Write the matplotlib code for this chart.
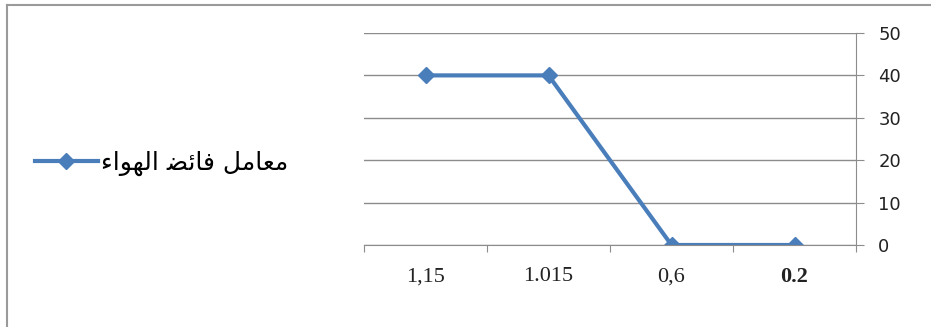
import numpy as np
import matplotlib.pyplot as plt
from matplotlib.lines import Line2D

# data
categories = ["1,15", "1.015", "0,6", "0.2"]
values = [40, 40, 0, 0]
y_ticks = [0, 10, 20, 30, 40, 50]

# "معامل فائض الهواء" in Arabic presentation forms, visual order (no shaping engine in mpl)
word1 = "\uFEE3\uFECC\uFE8E\uFEE3\uFEDE"
word2 = "\uFED3\uFE8E\uFE8B\uFEC0"
word3 = "\uFE8D\uFEDF\uFEEC\uFEEE\uFE8D\uFE80"
series_name = (word1 + " " + word2 + " " + word3)[::-1]

blue = "#4A7EBB"
grid_grey = "#8C8C8C"

fig = plt.figure(figsize=(9.31, 3.27), dpi=100)
W, H = 931, 327

# plot area in pixels: x 364..856, y 33..245
ax = fig.add_axes([364 / W, 1 - 245 / H, (856 - 364) / W, (245 - 33) / H])

x = np.arange(len(categories))
ax.plot(x, values, color=blue, lw=3.0, marker="D", markersize=8.5,
        markerfacecolor=blue, markeredgecolor=blue, solid_joinstyle="miter")

ax.set_xlim(-0.5, len(categories) - 0.5)
ax.set_ylim(0, 50)
ax.set_yticks(y_ticks)
ax.yaxis.tick_right()
ax.grid(axis="y", color=grid_grey, lw=1.0)
ax.set_axisbelow(True)

for s in ["top", "left"]:
    ax.spines[s].set_visible(False)
ax.spines["right"].set_color(grid_grey)
ax.spines["bottom"].set_color(grid_grey)

ax.tick_params(axis="y", length=6, color=grid_grey, labelsize=13,
               labelcolor="#222222", pad=10)
ax.set_yticklabels([str(v) for v in y_ticks], family="DejaVu Sans")

# x ticks at category boundaries, labels centred
ax.set_xticks(np.arange(-0.5, len(categories), 1.0))
ax.set_xticklabels([])
ax.tick_params(axis="x", length=5, color=grid_grey, direction="out")
for i, lab in enumerate(categories):
    ax.text(i, -0.15, lab, transform=ax.get_xaxis_transform(),
            ha="center", va="center", family="Liberation Serif", fontsize=16,
            fontweight="bold" if lab == "0.2" else "normal", color="#222222")

# legend on the left
handle = Line2D([], [], color=blue, lw=3.0, marker="D", markersize=8.5)
fig.legend([handle], [series_name], loc="center left",
           bbox_to_anchor=(35 / W, 1 - 163 / H), frameon=False,
           prop={"family": "DejaVu Sans", "size": 18}, handlelength=2.5,
           handletextpad=0.15, borderpad=0, borderaxespad=0)

# outer frame (top + left only)
fig.add_artist(Line2D([7 / W, 1], [1 - 5 / H, 1 - 5 / H], color="#9A9A9A", lw=1.5))
fig.add_artist(Line2D([7 / W, 7 / W], [0, 1 - 5 / H], color="#9A9A9A", lw=1.5))

fig.savefig("out.png", dpi=100, facecolor="white")
